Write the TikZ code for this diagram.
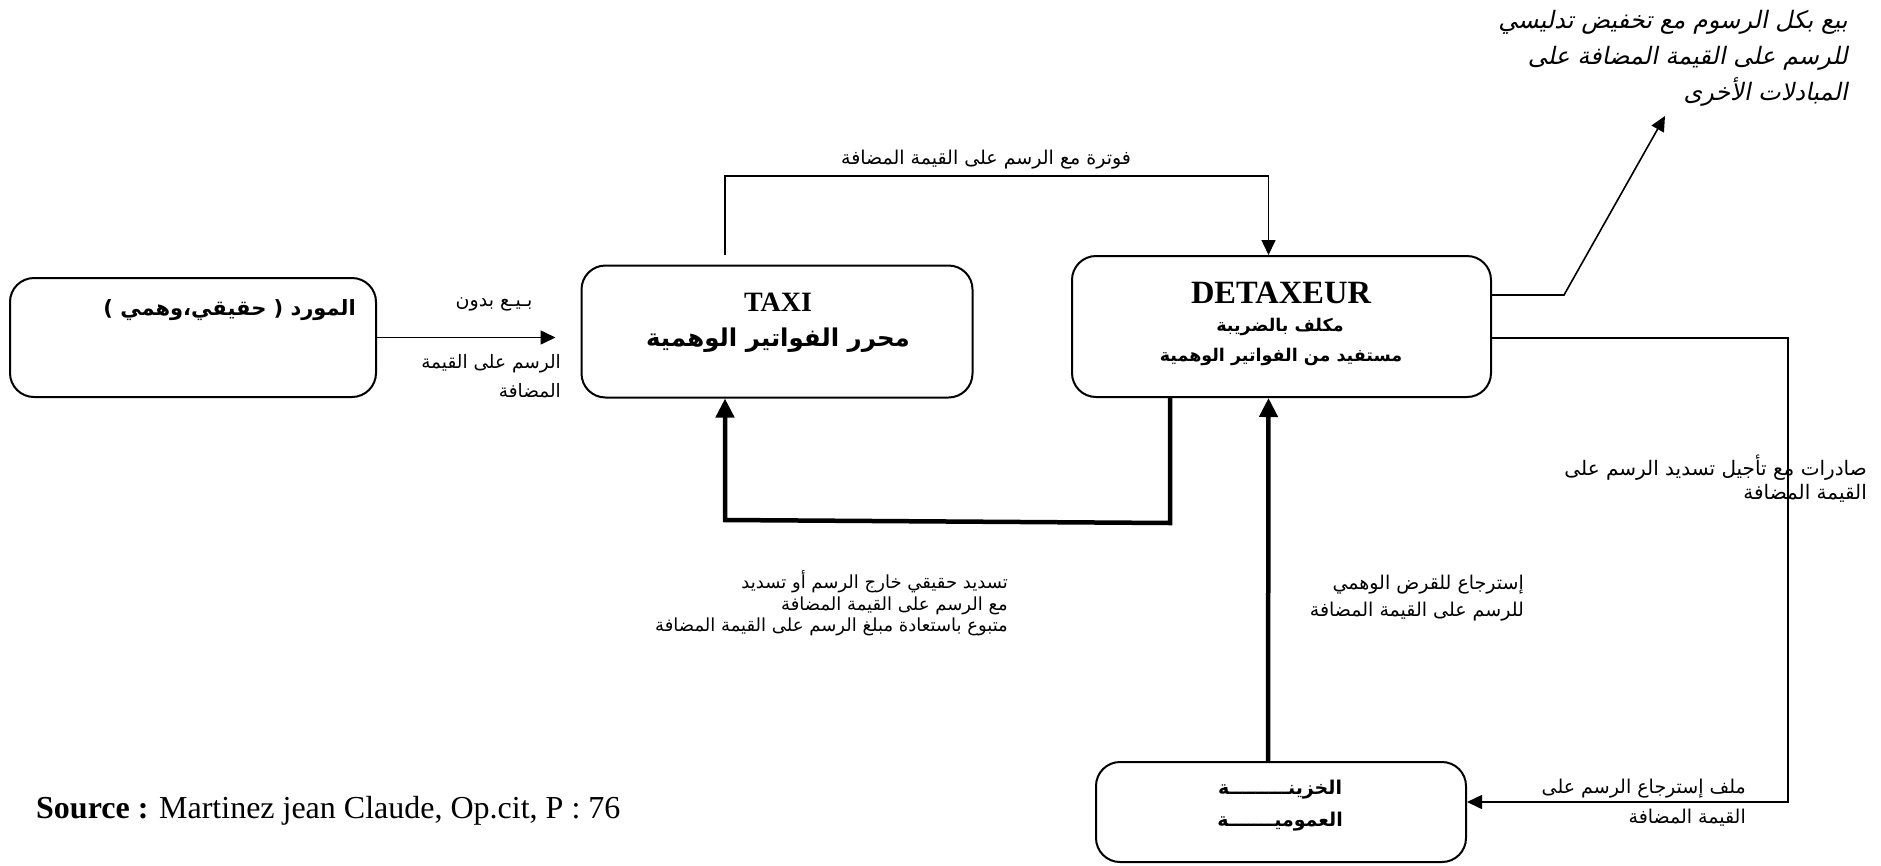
\documentclass[tikz,border=0pt]{standalone}
\usepackage{fontspec}
\setmainfont{Liberation Serif}
\newfontfamily\arabicfont[Script=Arabic]{DejaVu Sans}
\newfontfamily\arabicslant[Script=Arabic,FakeSlant=0.2]{DejaVu Sans}
\TeXXeTstate=1
\usetikzlibrary{arrows.meta}
\newcommand\artext[1]{{\arabicfont\beginR #1\endR}}
\newcommand\arbold[1]{{\arabicfont\bfseries\beginR #1\endR}}
\newcommand\arslant[1]{{\arabicslant\beginR #1\endR}}
\begin{document}
\begin{tikzpicture}[x=1pt,y=-1pt,
  box/.style={draw, line width=2pt, rounded corners=24pt, inner sep=0pt},
  thinln/.style={line width=1.6pt, -{Triangle[length=15pt,width=14pt]}},
  thickln/.style={line width=4.5pt, -{Triangle[length=19pt,width=18pt]}},
  lbl/.style={font=\fontsize{19}{21.5}\selectfont, align=right, inner sep=0pt},
  boxtxt/.style={inner sep=0pt, align=center}
]
\useasboundingbox (0,0) rectangle (1881,865);

% boxes
\node[box, minimum width=366pt, minimum height=119pt] (sup) at (193,337.5) {};
\node[box, minimum width=391pt, minimum height=132pt] (taxi) at (777,331.5) {};
\node[box, minimum width=419pt, minimum height=141pt] (detax) at (1281.5,326.5) {};
\node[box, minimum width=370pt, minimum height=100pt] (tres) at (1281,812) {};

% box texts
\node[boxtxt, anchor=east, font=\fontsize{21}{24}\selectfont] (suptxt) at (356,310)
  {{\arabicfont\bfseries ) \beginR حقيقي،وهمي\endR{} ( \beginR المورد\endR}};
\node[boxtxt, font=\fontsize{28}{32}\selectfont\bfseries] (taxiname) at (778,302) {TAXI};
\node[boxtxt, font=\fontsize{24.5}{28}\selectfont] (taxiar) at (778,340) {\arbold{محرر الفواتير الوهمية}};
\node[boxtxt, font=\fontsize{32.5}{36}\selectfont\bfseries] (detaxname) at (1281,293) {DETAXEUR};
\node[boxtxt, font=\fontsize{17.5}{22}\selectfont] (detaxar1) at (1280,327) {\arbold{مكلف بالضريبة}};
\node[boxtxt, font=\fontsize{17.5}{22}\selectfont] (detaxar2) at (1281,357) {\arbold{مستفيد من الفواتير الوهمية}};
\node[boxtxt, font=\fontsize{19}{22}\selectfont] (tres1) at (1280,790) {\arbold{الخزينـــــــــة}};
\node[boxtxt, font=\fontsize{19}{22}\selectfont] (tres2) at (1280,822) {\arbold{العموميـــــــة}};

% connectors
\draw[thinln, shorten >=25pt] (sup.east) -- (sup.east -| taxi.west);
\coordinate (tstart) at ([xshift=-52pt,yshift=10pt]taxi.north);
\draw[thinln] (tstart) -- (tstart |- 0,176) -| ([xshift=-13pt]detax.north);
\draw[thickln] ([xshift=-111.5pt]detax.south) -- (1170,523) -- (725,520) -- ([xshift=-52pt]taxi.south);
\draw[thickln] ([xshift=-13pt]tres.north) -- ([xshift=-13pt]detax.south);
\draw[thinln] ([yshift=-11.5pt]detax.east) -- (1788,338) -- (1788,802) -- ([yshift=10pt]tres.east);
\coordinate (diagtip) at (1665,116);
\draw[thinln] ([yshift=31.5pt]detax.east) -- (1564,295) -- (diagtip);

% labels
\node[lbl] (l1) at (494,304) {\artext{بـيـع بدون}};
\node[lbl, anchor=east, font=\fontsize{18.5}{29}\selectfont] (l2) at (561,376.5) {\artext{الرسم على القيمة}\\\artext{المضافة}};
\node[lbl] (lfact) at (986,160) {\artext{فوترة مع الرسم على القيمة المضافة}};
\node[lbl, anchor=east, font=\fontsize{18}{21.5}\selectfont] (lpay) at (1008,603.5)
  {\artext{تسديد حقيقي خارج الرسم أو تسديد}\\\artext{مع الرسم على القيمة المضافة}\\\artext{متبوع باستعادة مبلغ الرسم على القيمة المضافة}};
\node[lbl, anchor=east, font=\fontsize{19}{27}\selectfont] (lrefund) at (1524,598.5)
  {\artext{إسترجاع للقرض الوهمي}\\\artext{للرسم على القيمة المضافة}};
\node[lbl, anchor=east, font=\fontsize{20}{24}\selectfont] (lexp) at (1867,478.5)
  {\artext{صادرات مع تأجيل تسديد الرسم على}\\\artext{القيمة المضافة}};
\node[lbl, anchor=east, font=\fontsize{19}{30}\selectfont] (lfile) at (1746,803)
  {\artext{ملف إسترجاع الرسم على}\\\artext{القيمة المضافة}};
\node[lbl, anchor=east, font=\fontsize{24}{36}\selectfont] (lsale) at (1848,58.5)
  {\arslant{بيع بكل الرسوم مع تخفيض تدليسي}\\\arslant{للرسم على القيمة المضافة على}\\\arslant{المبادلات الأخرى}};
\node[anchor=west, inner sep=0pt, font=\fontsize{32}{36}\selectfont] (src) at (36,811)
  {\textbf{Source :} Martinez jean Claude, Op.cit, P : 76};
\end{tikzpicture}
\end{document}
